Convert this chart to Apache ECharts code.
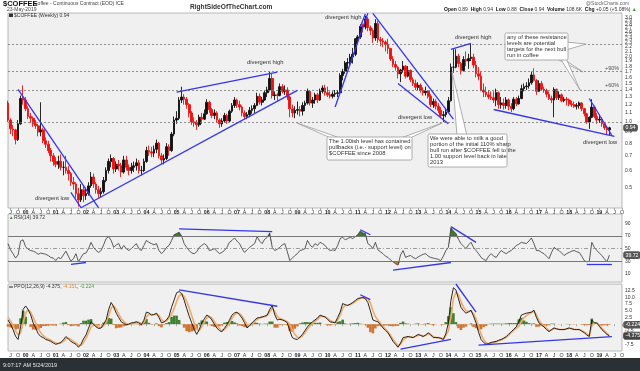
<!DOCTYPE html>
<html><head><meta charset="utf-8">
<script src="https://cdn.jsdelivr.net/npm/echarts@6.0.0/dist/echarts.min.js"></script>
<style>html,body{margin:0;padding:0;background:#fff;}#chart{width:640px;height:371px;}</style>
</head><body><div id="chart"></div>
<script>
// ---------------- DATA (monthly) ----------------
const firstYear = 1999, firstMonth = 6, totalSlots = 245; // Jun 1999 .. Oct 2019 (axis span)
const priceFirstOpen = 1.22;
const priceClose = [
 1.02,0.93,0.92,0.83,0.98,1.28,1.26,
 1.15,1.06,1.04,0.98,0.96,0.90,0.92,0.82,0.79,0.74,0.70,0.66,
 0.64,0.66,0.62,0.62,0.60,0.58,0.53,0.52,0.47,0.44,0.49,0.46,
 0.47,0.51,0.56,0.52,0.49,0.47,0.48,0.54,0.60,0.66,0.68,0.61,
 0.64,0.63,0.59,0.67,0.62,0.60,0.62,0.63,0.65,0.60,0.60,0.66,
 0.74,0.73,0.72,0.75,0.80,0.70,0.67,0.68,0.77,0.74,0.88,1.02,
 1.04,1.26,1.30,1.27,1.20,1.10,1.00,0.99,0.97,1.05,1.03,1.09,
 1.23,1.14,1.07,1.10,1.02,0.98,1.01,1.07,1.01,1.12,1.19,1.26,
 1.20,1.17,1.10,1.06,1.08,1.13,1.15,1.19,1.31,1.23,1.26,1.36,
 1.40,1.58,1.32,1.33,1.32,1.45,1.38,1.40,1.30,1.15,1.10,1.13,
 1.14,1.12,1.19,1.22,1.38,1.22,1.26,1.33,1.26,1.38,1.43,1.36,
 1.33,1.31,1.34,1.35,1.36,1.63,1.70,1.86,1.87,1.98,2.04,2.40,
 2.45,2.74,2.72,2.96,2.70,2.62,2.42,2.82,2.38,2.35,2.32,2.26,
 2.17,1.94,1.83,1.78,1.66,1.73,1.80,1.62,1.72,1.56,1.50,1.44,
 1.47,1.39,1.36,1.38,1.31,1.20,1.24,1.18,1.13,1.07,1.08,1.11,
 1.25,1.78,1.78,2.00,1.85,1.72,1.93,1.90,1.95,1.98,1.82,1.66,
 1.62,1.40,1.37,1.33,1.30,1.29,1.26,1.36,1.20,1.22,1.19,1.26,
 1.18,1.15,1.27,1.21,1.28,1.42,1.45,1.46,1.51,1.64,1.55,1.38,
 1.50,1.41,1.39,1.34,1.28,1.26,1.41,1.29,1.33,1.25,1.27,1.26,
 1.21,1.20,1.18,1.19,1.22,1.15,1.09,1.00,1.05,1.17,1.06,1.02,
 1.03,0.98,0.94,0.92,0.94
];
const priceHigh = [
 1.25,1.04,0.97,0.93,1.02,1.32,1.47,
 1.30,1.18,1.10,1.06,1.02,0.98,1.23,0.94,0.85,0.82,0.76,0.72,
 0.69,0.70,0.71,0.66,0.70,0.63,0.59,0.56,0.53,0.50,0.52,0.51,
 0.50,0.53,0.59,0.58,0.53,0.51,0.50,0.56,0.62,0.68,0.71,0.69,
 0.66,0.67,0.65,0.70,0.70,0.64,0.65,0.66,0.68,0.67,0.63,0.68,
 0.77,0.78,0.77,0.78,0.83,0.81,0.72,0.71,0.80,0.79,0.90,1.06,
 1.12,1.30,1.45,1.34,1.30,1.22,1.12,1.05,1.02,1.08,1.10,1.14,
 1.27,1.25,1.16,1.14,1.12,1.04,1.04,1.10,1.09,1.14,1.22,1.30,
 1.28,1.25,1.19,1.13,1.11,1.17,1.19,1.22,1.36,1.35,1.30,1.39,
 1.45,1.70,1.66,1.38,1.36,1.50,1.49,1.47,1.44,1.32,1.20,1.18,
 1.24,1.18,1.23,1.25,1.42,1.40,1.30,1.36,1.36,1.42,1.47,1.48,
 1.45,1.38,1.38,1.40,1.40,1.67,1.75,1.90,1.96,2.05,2.18,2.42,
 2.50,2.80,2.82,3.06,3.02,2.76,2.68,2.95,2.90,2.45,2.42,2.36,
 2.40,2.18,2.00,1.90,1.80,1.75,1.90,1.82,1.80,1.74,1.60,1.56,
 1.52,1.50,1.44,1.45,1.40,1.34,1.28,1.27,1.22,1.17,1.12,1.16,
 1.30,1.85,2.15,2.15,2.05,1.88,2.00,2.10,2.05,2.27,2.05,1.90,
 1.78,1.70,1.50,1.45,1.40,1.38,1.38,1.42,1.38,1.30,1.28,1.30,
 1.28,1.22,1.30,1.30,1.32,1.48,1.50,1.52,1.58,1.70,1.76,1.57,
 1.55,1.54,1.45,1.42,1.38,1.32,1.44,1.42,1.38,1.35,1.30,1.30,
 1.28,1.25,1.24,1.22,1.24,1.23,1.16,1.10,1.06,1.27,1.19,1.10,
 1.08,1.05,1.00,0.96,0.95
];
const priceLow = [
 1.00,0.88,0.86,0.79,0.82,0.97,1.20,
 1.12,1.03,0.99,0.95,0.93,0.86,0.86,0.80,0.76,0.72,0.66,0.63,
 0.62,0.61,0.60,0.57,0.58,0.54,0.51,0.49,0.45,0.41,0.43,0.43,
 0.44,0.46,0.50,0.50,0.47,0.45,0.45,0.47,0.53,0.58,0.62,0.58,
 0.59,0.60,0.56,0.58,0.60,0.57,0.58,0.59,0.60,0.58,0.57,0.59,
 0.65,0.70,0.69,0.69,0.72,0.68,0.64,0.64,0.67,0.70,0.73,0.86,
 0.98,1.02,1.22,1.20,1.15,1.05,0.97,0.95,0.92,0.95,0.98,1.02,
 1.08,1.10,1.04,1.03,0.99,0.94,0.95,0.99,0.98,1.00,1.10,1.16,
 1.16,1.13,1.06,1.03,1.03,1.05,1.09,1.10,1.18,1.20,1.19,1.25,
 1.30,1.38,1.28,1.26,1.25,1.31,1.35,1.33,1.26,1.05,1.05,1.04,
 1.08,1.06,1.07,1.12,1.20,1.19,1.16,1.21,1.22,1.25,1.35,1.32,
 1.30,1.28,1.28,1.30,1.30,1.35,1.55,1.66,1.75,1.80,1.85,2.00,
 2.30,2.40,2.56,2.65,2.60,2.50,2.30,2.35,2.30,2.22,2.20,2.10,
 2.05,1.90,1.78,1.72,1.58,1.52,1.68,1.58,1.60,1.52,1.46,1.40,
 1.40,1.36,1.32,1.32,1.28,1.17,1.16,1.14,1.10,1.04,1.00,1.05,
 1.10,1.24,1.68,1.76,1.78,1.65,1.70,1.80,1.75,1.90,1.76,1.60,
 1.55,1.38,1.30,1.30,1.27,1.26,1.22,1.18,1.15,1.15,1.14,1.15,
 1.13,1.11,1.13,1.18,1.20,1.27,1.38,1.40,1.42,1.48,1.53,1.33,
 1.37,1.39,1.36,1.30,1.26,1.22,1.05,1.26,1.26,1.23,1.23,1.19,
 1.18,1.17,1.16,1.14,1.15,1.12,1.06,0.98,0.93,1.04,1.04,0.98,
 0.99,0.95,0.92,0.87,0.87
];
const rsi14 = [
 58,48,42,35,40,62,64,
 53,49,47,46,44,41,43,42,41,39,36,35,
 31,36,34,40,46,38,30,34,42,29,36,42,
 43,50,60,52,47,44,47,56,66,69,63,52,
 56,58,49,55,50,47,50,54,58,50,47,55,
 63,60,58,56,58,47,42,46,52,55,63,72,
 74,76,70,58,52,47,43,42,45,52,55,58,
 55,47,48,50,46,42,44,47,52,60,63,67,
 62,58,50,44,48,52,55,58,69,62,58,65,
 68,75,52,47,49,52,56,58,45,31,35,39,
 42,47,48,50,63,56,52,58,55,60,58,55,
 50,47,48,47,55,66,68,64,66,68,66,69,
 72,78,75,74,58,55,50,60,48,45,42,38,
 36,32,29,26,24,40,47,36,38,39,36,34,
 37,39,41,42,38,36,35,34,33,31,38,47,
 52,83,78,74,65,58,54,50,56,60,52,47,
 42,36,33,31,38,42,38,36,42,47,44,42,
 45,47,51,55,57,60,59,58,62,67,58,47,
 47,44,42,38,34,44,52,49,47,43,39,42,
 44,46,47,45,44,38,31,29,30,60,52,47,
 43,39,34,29,39.72
];
const ppoLine = [
 1.6,0,-2,-4.5,-5.7,-1,5.5,
 6.8,5.5,3.5,0.5,-1.5,-3.5,-4.6,-5,-5.7,-6,-6.4,-7,
 -7.5,-7.2,-6.8,-5.8,-4.6,-5.5,-6.4,-7,-7.5,-8.6,-7.5,-5.5,
 -4,-1.5,0.9,0,-1,-1.6,-1.4,0,1.6,5.5,8.1,6.5,
 4.1,2.5,0.9,0.3,-0.2,0,0.5,0.6,0.9,0.5,-0.2,1.5,
 4.5,4.2,3.4,3.6,4.1,2.5,0.5,0.8,1.6,3,6.3,9,
 11.7,12.2,11.4,9,5.9,3,0.5,-2,-3.8,-2,0.5,2,
 3.4,2.8,1.6,0,-1.4,-2.4,-2.8,-1.5,-0.2,1.5,3.4,4.2,
 4.5,3.5,2.3,0.5,-1.4,-0.5,0.5,1.5,2.3,2.5,2.7,3,
 3.4,5.5,7.0,3.5,1.6,1.8,1.6,1.2,0.5,-2.5,-5,-5.5,
 -5.7,-4.8,-3.8,-2.4,-1,0,0.9,1.6,2.3,3.4,3,2.7,
 1.8,0.9,0.7,0.5,2.5,4.5,7.7,7.3,7.0,7.5,8.1,8.8,
 9.6,9.8,10,9.5,8.1,5,1.6,1.2,0.9,-0.2,-1.4,-2.3,
 -3.2,-4.8,-6.4,-7.5,-8.6,-7,-5,-4.8,-4.6,-4.8,-5,-4.4,
 -3.8,-4.2,-4.6,-4,-3.2,-4,-5,-5,-5,-5.3,-5.7,-3.5,
 0.5,8.8,13.6,12.8,9.5,6.3,5,4.1,4.6,5.2,3,0.5,
 -3,-5.7,-6.8,-7.5,-7.2,-6.8,-6.6,-6.4,-6,-5.7,-5.2,-4.6,
 -3.7,-2.8,-1.9,-1,1,3.4,3.8,4.1,4.3,4.5,5.2,2.5,
 0.5,-0.3,-1,-2,-2.8,-2,-1.4,-1.7,-2,-2,-2,-1.7,
 -1.4,-1.7,-2,-2,-2,-2.6,-3.2,-4,-4.6,1.6,0.5,0.5,
 -0.8,-2,-2.9,-3.8,-4.375
];
const ppoSignal = [
 2.5,1.2,-0.5,-2.5,-4,-3.2,0.5,
 4,5.5,4.5,2.5,0.5,-1.5,-3.2,-4.3,-5,-5.5,-6,-6.5,
 -7,-7.2,-7,-6.4,-5.4,-5.2,-5.7,-6.4,-7,-7.8,-7.9,-6.8,
 -5.3,-3.2,-1,-0.2,-0.5,-1.1,-1.3,-0.6,0.6,3.2,6,6.8,
 5.6,3.8,2.1,1,0.3,0,0.2,0.4,0.7,0.7,0.2,0.6,
 2.6,3.7,3.6,3.5,3.8,3.2,1.7,1,1.2,2.2,3.6,5.8,
 8.5,10.6,11.3,10.3,8.5,6,3.2,0.4,-1.8,-2.5,-0.9,0.8,
 2.4,2.9,2.3,1,-0.4,-1.6,-2.4,-2.1,-1,0.5,2.2,3.5,
 4.2,4,3,1.6,-0.2,-0.6,0,0.9,1.8,2.3,2.6,2.8,
 3.2,4.5,6,4.8,2.9,2.1,1.8,1.4,0.9,0,-2.2,-3.8,
 -4.9,-5.1,-4.4,-3.2,-1.8,-0.7,0.3,1.1,1.8,2.8,3,2.8,
 2.2,1.4,0.9,0.6,1.6,3.4,6,7,7.1,7.3,7.8,8.4,
 9.1,9.6,9.9,9.7,9.4,8,5,2.8,1.6,0.3,-0.8,-1.8,
 -2.8,-4.1,-5.6,-6.9,-8,-7.5,-6,-5.1,-4.8,-4.8,-4.9,-4.6,
 -4.1,-4.1,-4.4,-4.2,-3.6,-3.8,-4.6,-4.9,-5,-5.2,-5.5,-4.3,
 -2.5,2.5,9.5,12,11,8.5,6.3,5,4.7,4.9,4,2,
 -0.8,-3.8,-5.7,-6.9,-7.3,-7,-6.8,-6.6,-6.2,-5.9,-5.4,-4.9,
 -4.1,-3.2,-2.3,-1.4,-0.8,1.0,2.4,3.2,3.9,4.3,4.9,3.5,
 1.4,0.2,-0.6,-1.5,-2.4,-2.2,-1.6,-1.7,-1.9,-2,-2,-1.8,
 -1.5,-1.6,-1.9,-2,-2,-2.4,-2.9,-3.6,-4.3,-0.5,0.4,0.5,
 -0.3,-1.5,-2.5,-3.4,-4.151
];
const priceTickLabels = [0.5,0.6,0.7,0.8,0.9,1.0,1.1,1.2,1.3,1.4,1.5,1.6,1.7,1.8,1.9,2.0,2.1,2.2,2.3,2.4,2.5,2.6,2.7,2.8,2.9,3.0];
const rsiTickLabels = [10,30,50,70,90];
const ppoTickLabels = [-7.5,-2.5,2.5,5,7.5,10,12.5];
const resistanceLevels = [1.0,1.4,1.7,2.27];
const lastValues = {price:0.94, rsi:39.72, ppo:-4.375, signal:-4.151, hist:-0.224};
// annotation trend lines: [[monthIndex, value],[monthIndex, value]]
const priceTrendLines = [
 [[4,1.41],[36,0.405]], [[25,0.476],[29,0.406]], [[29,0.405],[115,1.395]],
 [[67,1.37],[107,1.69]], [[130,1.17],[143,3.14]], [[140,2.72],[142,3.12]],
 [[145,3.14],[177,1.03]], [[155,1.50],[175,0.98]], [[176,2.15],[184,2.29]],
 [[193,1.14],[241,0.86]], [[231,1.28],[240,0.867]]
];
const rsiTrendLines = [
 [[25,25],[31,28]], [[68,81.5],[105,77]], [[140,80],[144,72]],
 [[153,16],[176,28]], [[176,85],[186,60]], [[230,25],[240,25]]
];
const ppoTrendLines = [
 [[68,12.8],[107,6.7]], [[140,11],[144,9.2]], [[156,-9.3],[176,-5.7]],
 [[178,15],[186,4.5]], [[187,-7.8],[240,-4.6]]
];

// ---------------- BUILD ----------------
const categories = [];
{ let y = firstYear, m = firstMonth;
  while (categories.length < totalSlots) { categories.push(y + '-' + String(m).padStart(2,'0')); m++; if (m > 12) { m = 1; y++; } } }
const candleData = priceClose.map((c,i)=>[i===0?priceFirstOpen:priceClose[i-1], c, priceLow[i], priceHigh[i]]);
const histData = ppoLine.map((v,i)=>{ const h = +(v - ppoSignal[i]).toFixed(3);
  return {value:h, itemStyle:{color: h>=0 ? '#3f7f30' : '#cf7433'}}; });
const rsiHiBase = rsi14.map(v=>Math.min(v,70));
const rsiHiFill = rsi14.map(v=>Math.max(v-70,0));
const rsiLoBase = rsi14.map(v=>Math.min(v,30));
const rsiLoFill = rsi14.map(v=>30-Math.min(v,30));

const FONT = '"Liberation Sans", Arial, sans-serif';
const BLUE = '#3535f0';
const CLEAR = 'rgba(0,0,0,0)';
const qMonths = {1:true,4:true,7:true,10:true};
const qInterval = (idx,val)=> !!qMonths[+String(val).slice(5)];
const qFormat = (val)=>{ const m = +val.slice(5); if (m===1) return '{b|'+val.slice(2,4)+'}'; return {4:'A',7:'J',10:'O'}[m] || ''; };

function xAx(gi, show){
  return {type:'category', gridIndex:gi, data:categories, boundaryGap:false,
    axisLine:{show:false},
    axisTick:{show:show, interval:qInterval, length:2, lineStyle:{color:'#777',width:0.6}},
    axisLabel:{show:show, interval:qInterval, formatter:qFormat, fontSize:5.3, color:'#333', margin:2,
      rich:{b:{fontWeight:'bold', fontSize:5.3, color:'#222'}}},
    splitLine:{show:false}};
}
function trend(lines){
  return lines.map(l=>[{coord:l[0], lineStyle:{color:BLUE,width:1.3,type:'solid'}, label:{show:false}},
                       {coord:l[1], lineStyle:{color:BLUE,width:1.3,type:'solid'}, label:{show:false}}]);
}
function valueBox(v, text, bg, fg, border){
  return {yAxis:v, lineStyle:{color:CLEAR, width:0.5}, label:{show:true, position:'end', distance:2, formatter:text,
    fontSize:5.2, color:fg, backgroundColor:bg, borderColor:border||bg, borderWidth:0.8, borderRadius:2, padding:[1,1.5,0,1.5]}};
}
const priceMarks = []
 .concat(resistanceLevels.map(v=>({yAxis:v, lineStyle:{type:[2,2], color:'#777', width:0.8}, label:{show:false}})))
 .concat(priceTickLabels.map(v=>({yAxis:v, lineStyle:{color:CLEAR, width:0.5}, label:{show:true, position:'end', distance:3,
     formatter:v.toFixed(1), fontSize:5, color:'#333'}})))
 .concat([valueBox(lastValues.price, lastValues.price.toFixed(2), '#555', '#fff')])
 .concat(trend(priceTrendLines));
const rsiMarks = [
 {yAxis:70, lineStyle:{color:'#777',width:1,type:'solid'}, label:{show:false}},
 {yAxis:30, lineStyle:{color:'#777',width:1,type:'solid'}, label:{show:false}},
 {yAxis:50, lineStyle:{color:'#888',width:0.8,type:[4,2,1,2]}, label:{show:false}},
 valueBox(lastValues.rsi, lastValues.rsi.toFixed(2), '#555', '#fff')
].concat(trend(rsiTrendLines));
const ppoMarks = [
 valueBox(lastValues.hist, lastValues.hist.toFixed(3), '#555', '#fff'),
 valueBox(lastValues.signal, lastValues.signal.toFixed(3), '#fff', '#c66a1e', '#e08a3a'),
 valueBox(lastValues.ppo, lastValues.ppo.toFixed(3), '#444', '#fff')
].concat(trend(ppoTrendLines));

const gridBase = {left:8, right:18, show:true, backgroundColor:'#f0f0f0', borderColor:'#a8a8a8', borderWidth:0.8};
const hideY = {axisTick:{show:false}, splitLine:{show:false}, axisLine:{show:false}};

// ---------------- ANNOTATIONS (graphic) ----------------
const TXT = '#333';
function txt(x,y,text,size,color,weight,extra){
  return Object.assign({type:'text', x:x, y:y, silent:true, z:100,
    style:{text:text, fill:color||TXT, font:(weight||'normal')+' '+size+'px '+FONT, textVerticalAlign:'middle', verticalAlign:'middle'}}, extra||{});
}
function callout(x,y,w,h,lines,tails){
  const els = [];
  tails.forEach(t=>els.push({type:'polygon', silent:true, z:90, shape:{points:t}, style:{fill:'#fff', stroke:'#9a9a9a', lineWidth:0.8}}));
  els.push({type:'rect', silent:true, z:91, shape:{x:x,y:y,width:w,height:h,r:1.5}, style:{fill:'#fff', stroke:'#9a9a9a', lineWidth:0.8}});
  lines.forEach((l,i)=>els.push(Object.assign(txt(x+2, y+4+i*6.2, l, 5.8, '#333'), {z:92})));
  return els;
}
const graphics = [].concat(
 [
  txt(3,4,'$COFFEE',7.5,'#111','bold'),
  txt(34,4,'Coffee - Continuous Contract (EOD) ICE',5,'#444'),
  txt(7,10,'23-May-2019',5,'#444'),
  txt(190,7,'RightSideOfTheChart.com',6.6,'#333','bold'),
  txt(586,3.5,'@StockCharts.com',5,'#666'),
  {type:'text', x:444, y:10, silent:true, z:100, style:{text:'{l|Open} 0.89  {l|High} 0.94  {l|Low} 0.88  {l|Close} 0.94  {l|Volume} 108.6K  {l|Chg} +0.05 (+5.08%) {g|▲}',
    fill:'#333', font:'normal 5px '+FONT, textVerticalAlign:'middle', verticalAlign:'middle',
    rich:{l:{fontWeight:'bold', fontSize:5, fill:'#111', fontFamily:FONT}, g:{fontSize:5, fill:'#2a9a2a', fontFamily:FONT}}}},
  {type:'rect', x:9, y:13.5, shape:{x:0,y:0,width:4,height:3.5}, style:{fill:'#333'}, z:100, silent:true},
  txt(14,15.5,'$COFFEE (Weekly) 0.94',5,'#333'),
  txt(9,217.5,'▲',4.5,'#3a7a2a'),
  txt(14,217.5,'RSI(14) 39.72',5,'#333'),
  {type:'rect', x:9, y:286.5, shape:{x:0,y:0,width:4,height:1}, style:{fill:'#222'}, z:100, silent:true},
  {type:'text', x:14, y:287, silent:true, z:100, style:{text:'PPO(12,26,9) -4.375, {o|-4.151}, {g|-0.224}', fill:'#333',
    font:'normal 5px '+FONT, textVerticalAlign:'middle', verticalAlign:'middle',
    rich:{o:{fill:'#e08a2a', fontSize:5, fontFamily:FONT}, g:{fill:'#4a9a3a', fontSize:5, fontFamily:FONT}}}},
  txt(325,17,'divergent high',5.8,TXT),
  txt(247,62,'divergent high',5.8,TXT),
  txt(455,37,'divergent high',5.8,TXT),
  txt(35,198,'divergent low',5.8,TXT),
  txt(398,117,'divergent low',5.8,TXT),
  txt(583,142.5,'divergent low',5.8,TXT),
  txt(605,68,'+90%',5.5,'#555'),
  txt(605,85,'+60%',5.5,'#555'),
  {type:'rect', x:0, y:358, shape:{x:0,y:0,width:640,height:13}, style:{fill:'#2b3035'}, silent:true, z:100},
  txt(3,365,'9:07:17 AM 5/24/2019',5.5,'#e8e8e8')
 ],
 callout(505,33,63,27,['any of these resistance','levels are potential','targets for the next bull','run in coffee'],
   [[[566,42],[566,50],[586,44]], [[555,58],[562,58],[583,72]], [[560,58],[566,58],[580,90]]]),
 callout(327,137,85,23,['The 1.00ish level has contained','pullbacks (i.e.- support level) on','$COFFEE since 2008'],
   [[[333,139],[343,139],[297,123]], [[398,139],[408,139],[442,123]]]),
 callout(428,134,79,33,['We were able to milk a good','portion of the initial 110% sharp','bull run after $COFFEE fell to the','1.00 support level back in late','2013'],
   [[[457,136],[467,136],[452,72]]])
);

const option = {
  animation:false,
  backgroundColor:'#ffffff',
  textStyle:{fontFamily:FONT},
  grid:[Object.assign({top:13, height:195}, gridBase), Object.assign({top:214, height:68}, gridBase), Object.assign({top:284, height:67}, gridBase)],
  xAxis:[xAx(0,true), xAx(1,false), xAx(2,true)],
  yAxis:[
    Object.assign({type:'log', logBase:10, gridIndex:0, position:'right', min:0.404, max:3.15, axisLabel:{show:false}}, hideY),
    Object.assign({type:'value', gridIndex:1, position:'right', min:-3, max:105,
      axisLabel:{customValues:rsiTickLabels, fontSize:5, color:'#333', margin:3}}, hideY),
    Object.assign({type:'value', gridIndex:2, position:'right', min:-10, max:15, interval:2.5,
      axisLabel:{fontSize:5, color:'#333', margin:3, formatter:v=>ppoTickLabels.includes(v)?v.toFixed(1):''}}, hideY)
  ],
  series:[
    {type:'candlestick', name:'$COFFEE', xAxisIndex:0, yAxisIndex:0, data:candleData, barWidth:2.2,
     itemStyle:{color:'#111', color0:'#ee1111', borderColor:'#111', borderColor0:'#ee1111', borderWidth:0.9},
     markLine:{silent:true, symbol:['none','none'], animation:false, data:priceMarks}},
    {type:'line', xAxisIndex:1, yAxisIndex:1, data:rsiHiBase, stack:'hi', showSymbol:false, lineStyle:{width:0,opacity:0}, silent:true},
    {type:'line', xAxisIndex:1, yAxisIndex:1, data:rsiHiFill, stack:'hi', showSymbol:false, lineStyle:{width:0,opacity:0}, areaStyle:{color:'#3c7a2c',opacity:1}, silent:true},
    {type:'line', xAxisIndex:1, yAxisIndex:1, data:rsiLoBase, stack:'lo', showSymbol:false, lineStyle:{width:0,opacity:0}, silent:true},
    {type:'line', xAxisIndex:1, yAxisIndex:1, data:rsiLoFill, stack:'lo', showSymbol:false, lineStyle:{width:0,opacity:0}, areaStyle:{color:'#d0782e',opacity:1}, silent:true},
    {type:'line', name:'RSI', xAxisIndex:1, yAxisIndex:1, data:rsi14, showSymbol:false, lineStyle:{width:0.8,color:'#333'},
     markLine:{silent:true, symbol:['none','none'], animation:false, data:rsiMarks}},
    {type:'bar', xAxisIndex:2, yAxisIndex:2, data:histData, barCategoryGap:'0%', barWidth:2.6, silent:true},
    {type:'line', name:'Signal', xAxisIndex:2, yAxisIndex:2, data:ppoSignal, showSymbol:false, lineStyle:{width:1.6,color:'#f2aa66'}},
    {type:'line', name:'PPO', xAxisIndex:2, yAxisIndex:2, data:ppoLine, showSymbol:false, lineStyle:{width:0.9,color:'#111'},
     markLine:{silent:true, symbol:['none','none'], animation:false, data:ppoMarks}}
  ],
  graphic:{elements:graphics}
};
const chart = echarts.init(document.getElementById('chart'), null, {width:640, height:371});
chart.setOption(option);
</script></body></html>
